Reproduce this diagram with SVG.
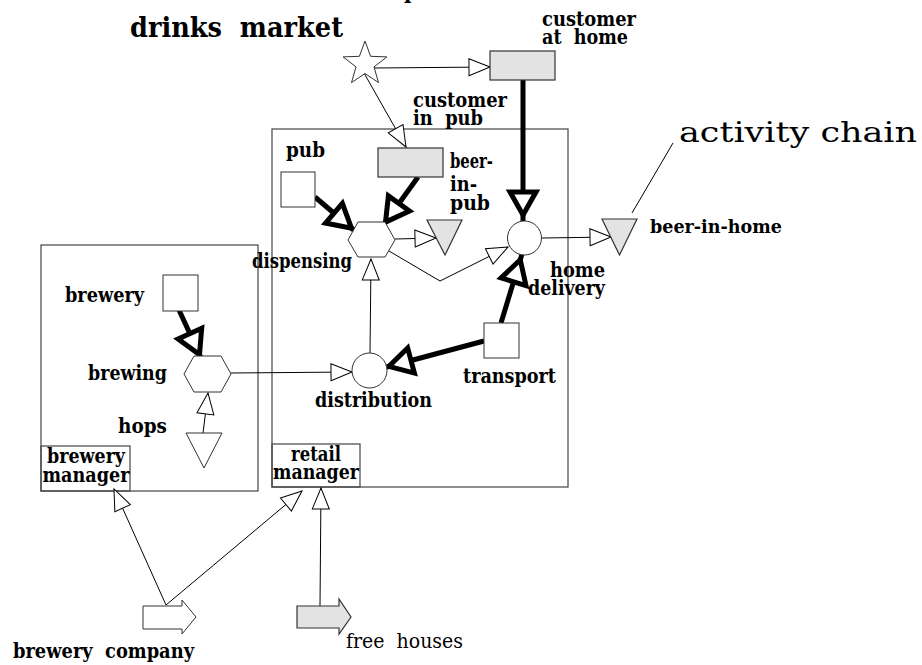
<svg xmlns="http://www.w3.org/2000/svg" width="922" height="665" viewBox="0 0 922 665">
  <style>
    .lbl { font-family: "DejaVu Serif", "Liberation Serif", serif; font-weight: bold; font-size: 20px; fill: #000; }
    .reg { font-weight: normal; }
    .title { font-family: "DejaVu Serif", "Liberation Serif", serif; font-weight: bold; font-size: 27px; fill: #000; }
    .chain { font-family: "DejaVu Serif", "Liberation Serif", serif; font-size: 28px; fill: #000; }
    .frame { fill: none; stroke: #444; stroke-width: 1.2; }
    .shape { fill: #fff; stroke: #333; stroke-width: 1; }
    .grey { fill: #e3e3e3; stroke: #333; stroke-width: 1.2; }
    .thin { fill: none; stroke: #000; stroke-width: 1; marker-end: url(#open); }
    .thick { fill: none; stroke: #000; stroke-width: 5; marker-end: url(#bold); }
    .plain { fill: none; stroke: #000; stroke-width: 1; }
  </style>
  <defs>
    <marker id="open" markerUnits="userSpaceOnUse" viewBox="-24 -12 26 24" markerWidth="26" markerHeight="24" refX="0" refY="0" orient="auto" overflow="visible">
      <path d="M0,0 L-21,-8.5 L-21,8.5 Z" fill="#fff" stroke="#000" stroke-width="1"/>
    </marker>
    <marker id="bold" markerUnits="userSpaceOnUse" viewBox="-40 -20 44 40" markerWidth="44" markerHeight="40" refX="0" refY="0" orient="auto" overflow="visible">
      <path d="M-6,0 L-29,-13 L-29,13 Z" fill="#fff" stroke="#000" stroke-width="5" stroke-linejoin="miter"/>
    </marker>
  </defs>

  <rect width="922" height="665" fill="#fff"/>

  <!-- headings -->
  <text class="lbl" x="404" y="-1">p</text>
  <text class="title" x="130" y="37" xml:space="preserve" textLength="213" lengthAdjust="spacingAndGlyphs">drinks  market</text>
  <text class="chain" x="679" y="142" textLength="238" lengthAdjust="spacingAndGlyphs">activity chain</text>

  <!-- containers -->
  <g id="retail-area">
    <rect class="frame" x="272" y="129" width="296" height="358"/>
    <rect class="frame" x="272" y="444" width="88" height="43"/>
    <text class="lbl" x="316" y="461" text-anchor="middle" textLength="50" lengthAdjust="spacingAndGlyphs">retail</text>
    <text class="lbl" x="316" y="479" text-anchor="middle" textLength="86" lengthAdjust="spacingAndGlyphs">manager</text>
  </g>
  <g id="brewery-area">
    <rect class="frame" x="41" y="245" width="217" height="246"/>
    <rect class="frame" x="41" y="446" width="89" height="45"/>
    <text class="lbl" x="86" y="463" text-anchor="middle" textLength="78" lengthAdjust="spacingAndGlyphs">brewery</text>
    <text class="lbl" x="86" y="482" text-anchor="middle" textLength="87" lengthAdjust="spacingAndGlyphs">manager</text>
  </g>

  <!-- connectors -->
  <g id="connectors">
    <line class="thin" x1="374" y1="68" x2="490" y2="67"/>
    <line class="thin" x1="364" y1="73" x2="406" y2="147"/>
    <line class="thin" x1="395" y1="239" x2="436" y2="238"/>
    <polyline class="thin" points="389,251 440,281 508,247"/>
    <line class="thin" x1="370" y1="353" x2="371" y2="259"/>
    <line class="thin" x1="542" y1="238" x2="611" y2="237"/>
    <line class="thin" x1="231" y1="373" x2="352" y2="372"/>
    <line class="thin" x1="203" y1="433" x2="208" y2="393"/>
    <line class="thin" x1="166" y1="605" x2="114" y2="489"/>
    <line class="thin" x1="166" y1="605" x2="302" y2="491"/>
    <line class="thin" x1="320" y1="606" x2="321" y2="488"/>
    <line class="plain" x1="673" y1="143" x2="632" y2="213"/>

    <line class="thick" x1="523" y1="80" x2="523" y2="221"/>
    <line class="thick" x1="315" y1="197" x2="356" y2="232"/>
    <line class="thick" x1="418" y1="177" x2="382" y2="227"/>
    <line class="thick" x1="501" y1="323" x2="522" y2="254"/>
    <line class="thick" x1="484" y1="341" x2="383" y2="368"/>
    <line class="thick" x1="179" y1="310" x2="202" y2="360"/>
  </g>

  <!-- nodes -->
  <g id="drinks-market">
    <polygon class="shape" points="365,41 370.6,56.3 386.9,56.9 374,66.9 378.5,82.6 365,73.5 351.5,82.6 356,66.9 343.1,56.9 359.4,56.3"/>
  </g>
  <g id="customer-at-home">
    <rect class="grey" x="490" y="51" width="65" height="29"/>
    <text class="lbl" x="542" y="26" textLength="94" lengthAdjust="spacingAndGlyphs">customer</text>
    <text class="lbl" x="542" y="44" xml:space="preserve" textLength="86" lengthAdjust="spacingAndGlyphs">at  home</text>
  </g>
  <g id="customer-in-pub">
    <rect class="grey" x="378" y="148" width="65" height="29"/>
    <text class="lbl" x="413" y="107" textLength="94" lengthAdjust="spacingAndGlyphs">customer</text>
    <text class="lbl" x="413" y="125" xml:space="preserve" textLength="70" lengthAdjust="spacingAndGlyphs">in  pub</text>
  </g>
  <g id="pub">
    <rect class="shape" x="281" y="172" width="34" height="35"/>
    <text class="lbl" x="286" y="157" textLength="39" lengthAdjust="spacingAndGlyphs">pub</text>
  </g>
  <g id="dispensing">
    <polygon class="shape" points="348,240 358,222 385,222 395,240 385,257 358,257"/>
    <text class="lbl" x="352" y="268" text-anchor="end" textLength="100" lengthAdjust="spacingAndGlyphs">dispensing</text>
  </g>
  <g id="beer-in-pub">
    <polygon class="grey" points="427,220 462,220 445,255"/>
    <text class="lbl" x="450" y="168" textLength="43" lengthAdjust="spacingAndGlyphs">beer-</text>
    <text class="lbl" x="450" y="191" textLength="27" lengthAdjust="spacingAndGlyphs">in-</text>
    <text class="lbl" x="450" y="210" textLength="40" lengthAdjust="spacingAndGlyphs">pub</text>
  </g>
  <g id="home-delivery">
    <circle class="shape" cx="524.5" cy="238" r="17"/>
    <text class="lbl" x="605" y="277" text-anchor="end" textLength="55" lengthAdjust="spacingAndGlyphs">home</text>
    <text class="lbl" x="605" y="295" text-anchor="end" textLength="77" lengthAdjust="spacingAndGlyphs">delivery</text>
  </g>
  <g id="beer-in-home">
    <polygon class="grey" points="602,219 637,219 619.5,255"/>
    <text class="lbl" x="650" y="233" style="font-size:18px" textLength="132" lengthAdjust="spacingAndGlyphs">beer-in-home</text>
  </g>
  <g id="transport">
    <rect class="shape" x="484" y="323" width="35" height="35"/>
    <text class="lbl" x="463" y="383" textLength="93" lengthAdjust="spacingAndGlyphs">transport</text>
  </g>
  <g id="distribution">
    <circle class="shape" cx="369.5" cy="370.5" r="17.5"/>
    <text class="lbl" x="315" y="407" textLength="117" lengthAdjust="spacingAndGlyphs">distribution</text>
  </g>
  <g id="brewery">
    <rect class="shape" x="163" y="275" width="35" height="36"/>
    <text class="lbl" x="65" y="302" textLength="79" lengthAdjust="spacingAndGlyphs">brewery</text>
  </g>
  <g id="brewing">
    <polygon class="shape" points="184,374 194,356 221,356 231,374 221,392 194,392"/>
    <text class="lbl" x="167" y="380" text-anchor="end" textLength="79" lengthAdjust="spacingAndGlyphs">brewing</text>
  </g>
  <g id="hops">
    <polygon class="shape" points="186,433 222,433 204,468"/>
    <text class="lbl" x="167" y="433" text-anchor="end" textLength="49" lengthAdjust="spacingAndGlyphs">hops</text>
  </g>
  <g id="brewery-company">
    <polygon class="shape" points="143,606 182,606 182,600 196,617 182,634 182,629 143,629"/>
    <text class="lbl" x="13" y="658" xml:space="preserve" textLength="181" lengthAdjust="spacingAndGlyphs">brewery  company</text>
  </g>
  <g id="free-houses">
    <polygon class="grey" points="297,606 339,606 339,599 351,617 339,634 339,628 297,628"/>
    <text class="lbl reg" x="346" y="648" xml:space="preserve" textLength="117" lengthAdjust="spacingAndGlyphs">free  houses</text>
  </g>
</svg>
